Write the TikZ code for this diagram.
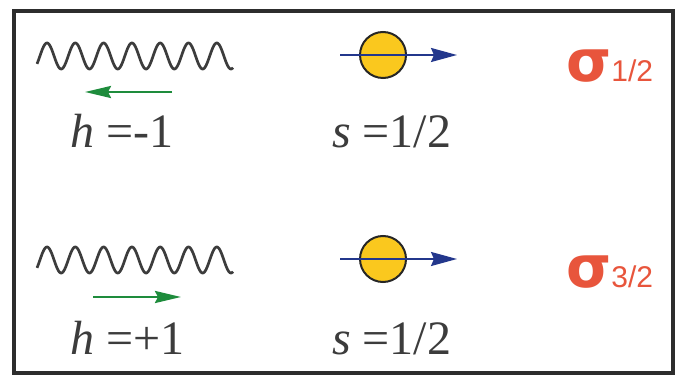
\documentclass[tikz,border=0pt]{standalone}
\usepackage{fontspec}
\setmainfont{Liberation Serif}
\newfontfamily\serfont{Liberation Serif}
\newfontfamily\sigfont{DejaVu Sans}
\newfontfamily\subfont{Liberation Sans}
\usetikzlibrary{arrows.meta}
\definecolor{txtgray}{RGB}{60,60,60}
\definecolor{wavegray}{RGB}{60,60,60}
\definecolor{helgreen}{RGB}{30,140,60}
\definecolor{spinblue}{RGB}{35,55,140}
\definecolor{ballgold}{RGB}{250,200,30}
\definecolor{sigred}{RGB}{232,85,60}
\definecolor{framegray}{RGB}{45,45,45}
\tikzset{
  wave/.style={draw=wavegray, line width=2.7pt},
  helarrow/.style={draw=helgreen, line width=2.5pt, -{Stealth[length=26pt,width=12pt,inset=3pt]}},
  spinarrow/.style={draw=spinblue, line width=2pt, -{Stealth[length=26pt,width=14pt,inset=3pt]}},
  ball/.style={circle, draw=black!85, line width=2pt, fill=ballgold, minimum size=46pt, inner sep=0pt},
  lbl/.style={anchor=base west, inner sep=0pt, text=txtgray, font=\serfont\fontsize{48}{52}\selectfont},
  sig/.style={anchor=base west, inner sep=0pt, text=sigred}
}
\begin{document}
\begin{tikzpicture}[x=1pt,y=-1pt]
\useasboundingbox (0,0) rectangle (675,379);
\fill[white] (0,0) rectangle (675,379);
\draw[framegray, line width=3.5pt] (14,11) rectangle (673,373);
% top row
\draw[wave] plot[domain=37:233, samples=300, smooth] (\x, {56 - 13*cos((\x-47)/28.3*360)});
\coordinate (g1s) at (172,92);
\coordinate (g1e) at (85,92);
\draw[helarrow] (g1s) -- (g1e);
\node[lbl] (h1) at (70,148) {\itshape h\upshape\ =-1};
\node[ball] (b1) at (383,55) {};
\coordinate (s1s) at (340,55);
\coordinate (s1e) at (457,55);
\draw[spinarrow] (s1s) -- (s1e);
\node[lbl] (t1) at (332,148) {\itshape s\upshape\ =1/2};
\node[sig] (sg1) at (566,82) {{\sigfont\bfseries\fontsize{58}{60}\selectfont σ}{\subfont\fontsize{30}{30}\selectfont 1/2}};
% bottom row
\draw[wave] plot[domain=37:233, samples=300, smooth] (\x, {260 - 13*cos((\x-47)/28.3*360)});
\coordinate (g2s) at (93,297);
\coordinate (g2e) at (181,297);
\draw[helarrow] (g2s) -- (g2e);
\node[lbl] (h2) at (70,355) {\itshape h\upshape\ =+1};
\node[ball] (b2) at (383,259) {};
\coordinate (s2s) at (340,259);
\coordinate (s2e) at (457,259);
\draw[spinarrow] (s2s) -- (s2e);
\node[lbl] (t2) at (332,355) {\itshape s\upshape\ =1/2};
\node[sig] (sg2) at (566,288) {{\sigfont\bfseries\fontsize{58}{60}\selectfont σ}{\subfont\fontsize{30}{30}\selectfont 3/2}};
\end{tikzpicture}
\end{document}
